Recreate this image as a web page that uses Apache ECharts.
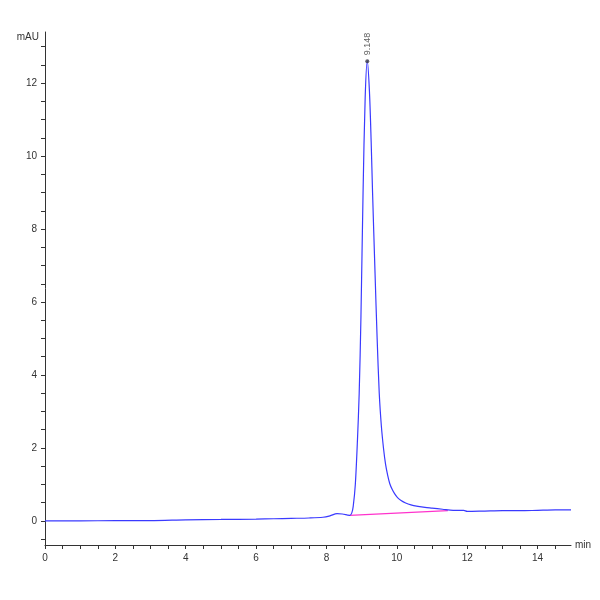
<!DOCTYPE html>
<html><head><meta charset="utf-8">
<script src="https://cdn.jsdelivr.net/npm/echarts@6/dist/echarts.min.js"></script>
<style>html,body{margin:0;background:#fff}#c{width:600px;height:600px}</style></head>
<body><div id="c"></div>
<script>
const timeMin = [0,1,2,3,4,5,6,6.5,7,7.5,7.9,8.1,8.3,8.45,8.6,8.66,8.72,8.76,8.82,8.88,8.93,8.98,9.04,9.1,9.16,9.22,9.27,9.31,9.38,9.44,9.5,9.56,9.62,9.68,9.74,9.8,9.87,9.94,10.02,10.12,10.25,10.4,10.6,10.8,11,11.3,11.6,11.9,12,12.5,13,13.5,14,14.5,14.95];
const signal  = [0.0,0.0,0.01,0.01,0.03,0.04,0.05,0.06,0.07,0.08,0.1,0.14,0.2,0.19,0.16,0.15,0.22,0.4,1.0,2.2,3.5,5.6,9.0,11.6,12.6,11.8,10.4,9.0,6.8,5.0,3.5,2.6,2.0,1.55,1.25,1.02,0.86,0.74,0.64,0.56,0.49,0.44,0.4,0.37,0.35,0.32,0.29,0.29,0.26,0.27,0.28,0.28,0.29,0.3,0.3];
const baseT = [8.66, 11.45];
const baseV = [0.15, 0.28];
const peakLabel = '9.148';
const peakT = 9.16, peakV = 12.6;
const yLabels = [0,2,4,6,8,10,12];
const xLabels = [0,2,4,6,8,10,12,14];
const yTicks = [], xTicks = [];
for (let v = -0.5; v <= 13.4; v += 0.5) yTicks.push(+v.toFixed(1));
for (let v = 0; v <= 14.9; v += 0.5) xTicks.push(+v.toFixed(1));
const ch = echarts.init(document.getElementById('c'));
const font = {fontFamily:'Liberation Sans Narrow, Liberation Sans, sans-serif', fontSize:10, color:'#333'};
ch.setOption({
  animation:false,
  grid:{left:45,right:29,top:32,bottom:55},
  xAxis:{type:'value',min:0,max:14.95,
    name:'min',nameLocation:'end',nameGap:4,nameTextStyle:Object.assign({},font,{padding:[18,0,0,0]}),
    axisLine:{onZero:false,lineStyle:{color:'#333'}},
    axisTick:{customValues:xTicks,length:4,inside:false,lineStyle:{color:'#333'}},
    axisLabel:Object.assign({customValues:xLabels},font),
    splitLine:{show:false}},
  yAxis:{type:'value',min:-0.66,max:13.4,
    name:'mAU',nameLocation:'end',nameGap:-10,nameTextStyle:Object.assign({},font,{align:'right',padding:[0,6,0,0]}),
    axisLine:{show:true,onZero:false,lineStyle:{color:'#333'}},
    axisTick:{show:true,customValues:yTicks,length:4,lineStyle:{color:'#333'}},
    axisLabel:Object.assign({customValues:yLabels},font),
    splitLine:{show:false}},
  series:[
    {type:'line',data:timeMin.map((t,i)=>[t,signal[i]]),showSymbol:false,smooth:0.3,
     lineStyle:{color:'#3a3aff',width:1.2},z:3},
    {type:'line',data:baseT.map((t,i)=>[t,baseV[i]]),showSymbol:false,
     lineStyle:{color:'#ff33cc',width:1.2},z:2},
    {type:'scatter',data:[[peakT,peakV]],symbolSize:4,itemStyle:{color:'#334'},
     label:{show:true,formatter:peakLabel,position:'top',rotate:90,align:'left',verticalAlign:'middle',
       distance:4,fontSize:9,color:'#333',fontFamily:'Liberation Sans'},z:4}
  ]
});
</script></body></html>
